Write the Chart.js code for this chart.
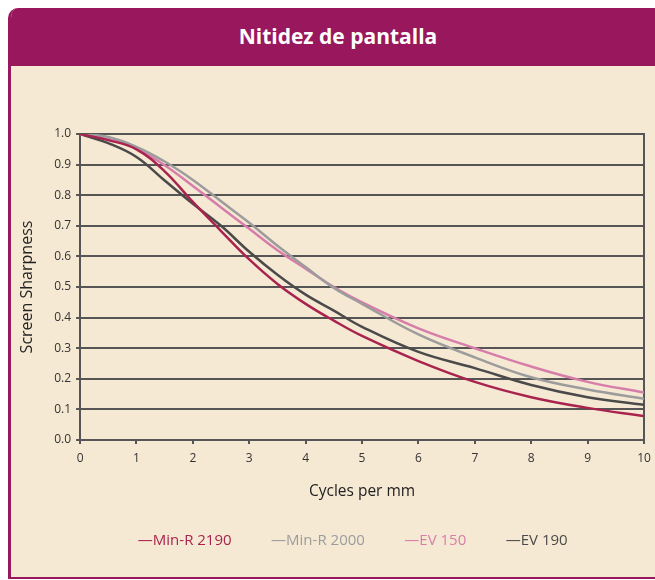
<!DOCTYPE html>
<html>
<head>
<meta charset="utf-8">
<script src="https://cdn.jsdelivr.net/npm/chart.js@4/dist/chart.umd.min.js"></script>
<style>
  html, body { margin: 0; padding: 0; background: #fff; }
  body { width: 655px; height: 580px; position: relative; overflow: hidden; }
  .marco {
    position: absolute; left: 8px; top: 8px; width: 660px; height: 569px;
    background: #F6E9D4; border-left: 3px solid #98175D; border-bottom: 2px solid #98175D;
    border-top-left-radius: 10px; overflow: hidden;
  }
  .cabecera {
    height: 58px; background: #98175D; color: #fff;
    font: bold 21px "Open Sans", sans-serif; text-align: center; line-height: 56px;
    padding-right: 6px;
  }
  #grafico { position: absolute; left: 0; top: 0; }
</style>
</head>
<body>
<div class="marco"><div class="cabecera">Nitidez de pantalla</div></div>
<canvas id="grafico" width="700" height="580"></canvas>
<script>
// ciclos por mm
const ciclos = [0, 0.5, 1, 1.5, 2, 2.5, 3, 3.5, 4, 4.5, 5, 6, 7, 8, 9, 10];
const ticksY = [0, 0.1, 0.2, 0.3, 0.4, 0.5, 0.6, 0.7, 0.8, 0.9, 1.0];
const ticksX = [0, 1, 2, 3, 4, 5, 6, 7, 8, 9, 10];

const minR2190 = [1.0, 0.98, 0.95, 0.878, 0.778, 0.683, 0.59, 0.51, 0.445, 0.39, 0.34, 0.258, 0.19, 0.14, 0.105, 0.078];
const minR2000 = [1.0, 0.99, 0.958, 0.91, 0.85, 0.78, 0.71, 0.635, 0.565, 0.497, 0.445, 0.345, 0.27, 0.205, 0.165, 0.135];
const ev150    = [1.0, 0.987, 0.952, 0.898, 0.83, 0.76, 0.69, 0.62, 0.56, 0.50, 0.45, 0.365, 0.30, 0.24, 0.19, 0.155];
const ev190    = [1.0, 0.97, 0.925, 0.848, 0.772, 0.70, 0.615, 0.54, 0.475, 0.423, 0.37, 0.288, 0.235, 0.18, 0.14, 0.115];

const series = [
  { label: 'Min-R 2190', data: minR2190, color: '#A8244E' },
  { label: 'Min-R 2000', data: minR2000, color: '#9C9C9C' },
  { label: 'EV 150', data: ev150, color: '#D77DAA' },
  { label: 'EV 190', data: ev190, color: '#4A4A4A' }
];

const fuente = '"Open Sans", sans-serif';
const rejilla = '#555555';

new Chart(document.getElementById('grafico'), {
  type: 'line',
  data: {
    datasets: series.map(s => ({
      label: s.label,
      data: ciclos.map((c, i) => ({ x: c, y: s.data[i] })),
      borderColor: s.color,
      backgroundColor: s.color,
      borderWidth: 2.5,
      pointRadius: 0,
      tension: 0.4
    }))
  },
  options: {
    responsive: false,
    animation: false,
    layout: { padding: { left: 18, right: 20, top: 134, bottom: 22 } },
    plugins: {
      tooltip: { enabled: false },
      legend: {
        position: 'bottom',
        labels: {
          boxWidth: 0,
          boxHeight: 0,
          padding: 32,
          font: { family: fuente, size: 15 },
          generateLabels: chart => chart.data.datasets.map((d, i) => ({
            text: '\u2014' + d.label,
            fontColor: d.borderColor,
            fillStyle: 'transparent',
            strokeStyle: 'transparent',
            lineWidth: 0,
            datasetIndex: i
          }))
        }
      }
    },
    scales: {
      x: {
        type: 'linear',
        min: 0, max: 10,
        afterBuildTicks: ax => { ax.ticks = ticksX.map(v => ({ value: v })); },
        grid: {
          color: c => (c.tick && c.tick.value === 10) ? rejilla : 'transparent',
          tickColor: rejilla,
          lineWidth: 2,
          tickLength: 4
        },
        border: { color: rejilla, width: 2 },
        ticks: { color: '#333', font: { family: fuente, size: 12 }, padding: 7, maxRotation: 0 },
        title: { display: true, text: 'Cycles per mm', color: '#222', font: { family: fuente, size: 15.5 }, padding: { top: 10, bottom: 0 } }
      },
      y: {
        min: 0, max: 1,
        afterBuildTicks: ax => { ax.ticks = ticksY.map(v => ({ value: v })); },
        grid: { color: rejilla, lineWidth: 2, tickLength: 4 },
        border: { color: rejilla, width: 2 },
        ticks: { color: '#333', font: { family: fuente, size: 12 }, padding: 5, callback: v => v.toFixed(1) },
        title: { display: true, text: 'Screen Sharpness', color: '#222', font: { family: fuente, size: 16 }, padding: { top: 0, bottom: 12 } }
      },
      // eje vacío a la derecha: cierra el marco del gráfico y centra la leyenda
      margen: {
        type: 'linear',
        position: 'right',
        ticks: { display: false },
        grid: { display: false },
        border: { display: true, color: rejilla, width: 2 },
        afterFit: ax => { ax.width = 36; }
      }
    }
  }
});
</script>
</body>
</html>
